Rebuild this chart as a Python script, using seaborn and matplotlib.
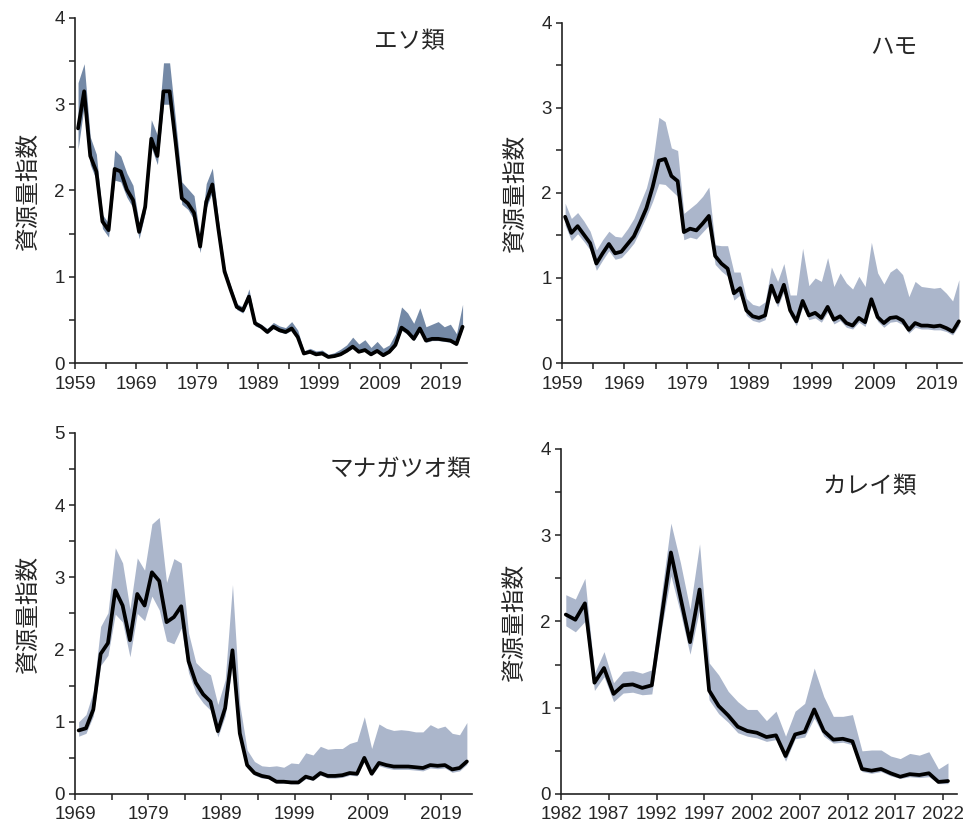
import matplotlib

matplotlib.use("Agg")
import matplotlib.pyplot as plt
import numpy as np
import seaborn as sns

# ----------------------------------------------------
# データ (資源量指数: 中央値と上下の幅)
# ----------------------------------------------------
eso_years = list(range(1959, 2023))
eso_mid = [2.72, 3.15, 2.40, 2.22, 1.64, 1.54, 2.25, 2.22, 2.01, 1.89,
           1.52, 1.81, 2.60, 2.40, 3.15, 3.15, 2.55, 1.91, 1.85, 1.74,
           1.35, 1.87, 2.07, 1.55, 1.06, 0.85, 0.65, 0.61, 0.77, 0.46,
           0.42, 0.36, 0.42, 0.38, 0.36, 0.40, 0.30, 0.11, 0.13, 0.10,
           0.11, 0.07, 0.08, 0.10, 0.14, 0.19, 0.13, 0.15, 0.10, 0.14,
           0.09, 0.13, 0.21, 0.41, 0.36, 0.28, 0.40, 0.26, 0.28, 0.28,
           0.27, 0.26, 0.22, 0.42]
eso_hi = [3.25, 3.47, 2.62, 2.42, 1.72, 1.62, 2.47, 2.40, 2.20, 2.06,
          1.62, 1.92, 2.82, 2.64, 3.48, 3.48, 2.80, 2.10, 2.02, 1.94,
          1.45, 2.08, 2.26, 1.66, 1.12, 0.90, 0.69, 0.65, 0.86, 0.49,
          0.45, 0.40, 0.47, 0.43, 0.41, 0.48, 0.38, 0.14, 0.17, 0.14,
          0.15, 0.10, 0.12, 0.16, 0.21, 0.30, 0.22, 0.27, 0.18, 0.25,
          0.17, 0.21, 0.34, 0.65, 0.58, 0.46, 0.64, 0.42, 0.45, 0.48,
          0.42, 0.45, 0.34, 0.68]
eso_lo = [2.48, 2.98, 2.30, 2.12, 1.56, 1.46, 2.12, 2.10, 1.92, 1.80,
          1.44, 1.74, 2.50, 2.30, 3.00, 3.00, 2.40, 1.84, 1.78, 1.66,
          1.28, 1.80, 1.98, 1.48, 1.01, 0.81, 0.62, 0.58, 0.73, 0.43,
          0.40, 0.34, 0.40, 0.36, 0.34, 0.38, 0.28, 0.10, 0.12, 0.09,
          0.10, 0.06, 0.07, 0.09, 0.13, 0.17, 0.12, 0.14, 0.09, 0.13,
          0.08, 0.12, 0.19, 0.38, 0.33, 0.26, 0.37, 0.24, 0.26, 0.26,
          0.25, 0.24, 0.20, 0.39]

hamo_years = list(range(1959, 2023))
hamo_mid = [1.72, 1.53, 1.61, 1.51, 1.41, 1.17, 1.29, 1.40, 1.29, 1.31,
            1.40, 1.49, 1.65, 1.82, 2.07, 2.38, 2.40, 2.20, 2.14, 1.54,
            1.58, 1.56, 1.64, 1.73, 1.26, 1.17, 1.11, 0.82, 0.88, 0.62,
            0.55, 0.53, 0.56, 0.91, 0.72, 0.92, 0.62, 0.49, 0.73, 0.56,
            0.59, 0.53, 0.66, 0.51, 0.55, 0.47, 0.44, 0.53, 0.48, 0.75,
            0.54, 0.47, 0.53, 0.54, 0.50, 0.39, 0.47, 0.44, 0.44, 0.43,
            0.44, 0.41, 0.37, 0.49]
hamo_hi = [1.88, 1.70, 1.77, 1.67, 1.55, 1.33, 1.45, 1.55, 1.49, 1.48,
           1.58, 1.70, 1.88, 2.06, 2.35, 2.89, 2.84, 2.53, 2.50, 1.76,
           1.82, 1.88, 1.96, 2.07, 1.39, 1.38, 1.38, 1.07, 1.07, 0.76,
           0.69, 0.67, 0.72, 1.13, 0.96, 1.17, 0.80, 0.80, 1.35, 0.91,
           1.00, 0.96, 1.24, 0.90, 1.06, 0.94, 0.87, 1.02, 0.90, 1.42,
           1.06, 0.93, 1.07, 1.12, 1.04, 0.78, 0.96, 0.90, 0.89, 0.88,
           0.89, 0.82, 0.73, 0.98]
hamo_lo = [1.62, 1.44, 1.52, 1.43, 1.33, 1.09, 1.21, 1.32, 1.22, 1.24,
           1.32, 1.41, 1.56, 1.72, 1.90, 2.11, 2.10, 2.03, 1.96, 1.45,
           1.48, 1.46, 1.54, 1.62, 1.16, 1.08, 1.02, 0.74, 0.80, 0.56,
           0.50, 0.48, 0.51, 0.83, 0.66, 0.84, 0.56, 0.44, 0.66, 0.51,
           0.53, 0.48, 0.60, 0.46, 0.50, 0.42, 0.40, 0.48, 0.43, 0.68,
           0.49, 0.42, 0.48, 0.49, 0.45, 0.35, 0.42, 0.40, 0.40, 0.39,
           0.39, 0.37, 0.33, 0.44]

mana_years = list(range(1969, 2023))
mana_mid = [0.88, 0.91, 1.17, 1.94, 2.09, 2.82, 2.61, 2.13, 2.77, 2.61,
            3.07, 2.95, 2.38, 2.45, 2.60, 1.84, 1.54, 1.38, 1.28, 0.87,
            1.19, 1.99, 0.84, 0.40, 0.29, 0.25, 0.23, 0.17, 0.17, 0.16,
            0.16, 0.24, 0.21, 0.29, 0.25, 0.25, 0.26, 0.29, 0.28, 0.50,
            0.28, 0.43, 0.40, 0.38, 0.38, 0.38, 0.37, 0.36, 0.40, 0.39,
            0.40, 0.34, 0.36, 0.45]
mana_hi = [1.00, 1.10, 1.42, 2.32, 2.51, 3.41, 3.20, 2.56, 3.27, 3.10,
           3.74, 3.83, 2.93, 3.26, 3.20, 2.23, 1.82, 1.72, 1.65, 1.24,
           1.58, 2.90, 1.24, 0.61, 0.45, 0.39, 0.38, 0.39, 0.37, 0.43,
           0.42, 0.57, 0.54, 0.66, 0.62, 0.63, 0.63, 0.70, 0.73, 1.07,
           0.63, 0.97, 0.91, 0.88, 0.89, 0.88, 0.86, 0.86, 0.96, 0.91,
           0.94, 0.84, 0.82, 0.99]
mana_lo = [0.80, 0.84, 1.08, 1.78, 1.92, 2.49, 2.38, 1.90, 2.50, 2.40,
           2.74, 2.55, 2.12, 2.08, 2.30, 1.68, 1.40, 1.26, 1.16, 0.79,
           1.08, 1.80, 0.76, 0.36, 0.26, 0.22, 0.21, 0.15, 0.15, 0.14,
           0.14, 0.21, 0.19, 0.26, 0.22, 0.22, 0.23, 0.26, 0.25, 0.45,
           0.25, 0.39, 0.36, 0.34, 0.34, 0.34, 0.33, 0.32, 0.36, 0.35,
           0.36, 0.30, 0.32, 0.41]

karei_years = list(range(1982, 2023))
karei_mid = [2.08, 2.02, 2.21, 1.29, 1.46, 1.16, 1.26, 1.27, 1.23, 1.26,
             2.03, 2.80, 2.28, 1.76, 2.37, 1.20, 1.02, 0.91, 0.78, 0.73,
             0.71, 0.66, 0.68, 0.44, 0.69, 0.72, 0.98, 0.73, 0.63, 0.64,
             0.61, 0.29, 0.27, 0.29, 0.24, 0.20, 0.23, 0.22, 0.24, 0.14,
             0.15]
karei_hi = [2.31, 2.26, 2.50, 1.40, 1.65, 1.29, 1.42, 1.43, 1.40, 1.44,
            2.30, 3.14, 2.68, 2.14, 2.90, 1.52, 1.38, 1.19, 1.07, 0.98,
            0.98, 0.85, 0.96, 0.67, 0.96, 1.05, 1.46, 1.13, 0.90, 0.90,
            0.92, 0.50, 0.51, 0.51, 0.44, 0.41, 0.47, 0.45, 0.49, 0.29,
            0.36]
karei_lo = [1.95, 1.88, 2.00, 1.20, 1.36, 1.07, 1.17, 1.18, 1.15, 1.16,
            1.90, 2.53, 2.10, 1.62, 2.14, 1.09, 0.93, 0.83, 0.71, 0.67,
            0.65, 0.61, 0.63, 0.38, 0.64, 0.66, 0.88, 0.67, 0.59, 0.60,
            0.57, 0.26, 0.24, 0.26, 0.21, 0.18, 0.20, 0.19, 0.20, 0.12,
            0.12]

# ----------------------------------------------------
# スタイル設定
# ----------------------------------------------------
sns.set_style("ticks")
plt.rcParams["font.family"] = ["Liberation Sans", "Noto Sans CJK JP"]
plt.rcParams["axes.unicode_minus"] = False

config = {
    "figsize": (9.74, 8.32),
    "dpi": 100,
    "ylabel": "資源量指数",
    "line_color": "black",
    "line_width": 2.7,
    "tick_size": 13.5,
    "label_size": 17,
    "title_size": 17,
    "spine_color": "#222222",
}

panels = [
    {"title": "エソ類", "years": eso_years, "mid": eso_mid, "lo": eso_lo, "hi": eso_hi,
     "rect": [0.077, 0.5637, 0.402, 0.4147], "ymax": 4, "fill": "#7489a6",
     "label_step": 10, "xend": 0.65, "tpos": (0.855, 0.93)},
    {"title": "ハモ", "years": hamo_years, "mid": hamo_mid, "lo": hamo_lo, "hi": hamo_hi,
     "rect": [0.577, 0.5637, 0.411, 0.4087], "ymax": 4, "fill": "#abb6cb",
     "label_step": 10, "xend": 0.55, "tpos": (0.83, 0.926)},
    {"title": "マナガツオ類", "years": mana_years, "mid": mana_mid, "lo": mana_lo, "hi": mana_hi,
     "rect": [0.077, 0.0457, 0.4076, 0.4339], "ymax": 5, "fill": "#abb6cb",
     "label_step": 10, "xend": 0.7, "tpos": (0.82, 0.897)},
    {"title": "カレイ類", "years": karei_years, "mid": karei_mid, "lo": karei_lo, "hi": karei_hi,
     "rect": [0.576, 0.0457, 0.4066, 0.4147], "ymax": 4, "fill": "#abb6cb",
     "label_step": 5, "xend": 0.95, "tpos": (0.78, 0.89)},
]

fig = plt.figure(figsize=config["figsize"], dpi=config["dpi"])

for p in panels:
    ax = fig.add_axes(p["rect"])
    years = np.array(p["years"])

    # 幅 (塗りつぶし) と中央値の線
    ax.fill_between(years, p["lo"], p["hi"], color=p["fill"], linewidth=0)
    sns.lineplot(x=years, y=p["mid"], ax=ax, color=config["line_color"],
                 linewidth=config["line_width"])

    # x軸: 目盛りは年区切り(半年左)、ラベルは label_step ごと
    first, last = years[0], years[-1]
    tick_years = list(range(first, last + 1, 5))
    ax.set_xticks([y - 0.5 for y in tick_years])
    ax.set_xticklabels([str(y) if (y - first) % p["label_step"] == 0 else ""
                        for y in tick_years])
    ax.set_xlim(first - 0.5, last + p["xend"])

    # y軸: 0.5 刻みの目盛り、整数のみラベル
    yt = np.arange(0, p["ymax"] + 0.01, 0.5)
    ax.set_yticks(yt)
    ax.set_yticklabels([f"{v:.0f}" if v == int(v) else "" for v in yt])
    ax.set_ylim(0, p["ymax"])

    ax.tick_params(direction="out", length=4, width=1.1,
                   color=config["spine_color"], labelsize=config["tick_size"])
    ax.tick_params(axis="x", pad=5)
    for side in ["left", "bottom"]:
        ax.spines[side].set_color(config["spine_color"])
        ax.spines[side].set_linewidth(1.2)
    sns.despine(ax=ax)

    ax.set_xlabel("")
    ax.set_ylabel(config["ylabel"], fontsize=config["label_size"], labelpad=10)
    ax.text(p["tpos"][0], p["tpos"][1], p["title"], transform=ax.transAxes,
            ha="center", va="center", fontsize=config["title_size"])

fig.savefig("out.png", dpi=config["dpi"])
